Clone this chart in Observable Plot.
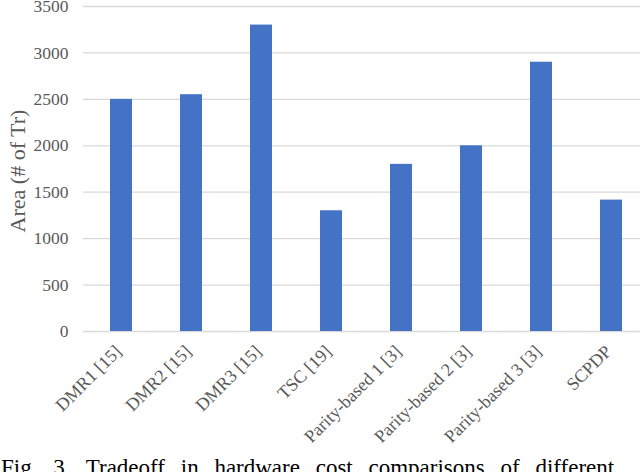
<!DOCTYPE html>
<html>
<head>
<meta charset="utf-8">
<script src="https://cdn.jsdelivr.net/npm/d3@7"></script>
<script src="https://cdn.jsdelivr.net/npm/@observablehq/plot@0.6"></script>
<style>
  html, body { margin: 0; padding: 0; background: #fff; overflow: hidden; }
  #chart svg { display: block; }
  #caption { font-family: "Liberation Serif", "Times New Roman", serif; font-size: 23px; line-height: 23px; color: #000; padding-left: 1px; margin-top: 6px; white-space: nowrap; word-spacing: 10px; }
</style>
</head>
<body>
<div id="chart"></div>
<div id="caption">Fig. 3. Tradeoff in hardware cost comparisons of different</div>
<script>
const categories = ["DMR1 [15]", "DMR2 [15]", "DMR3 [15]", "TSC [19]", "Parity-based 1 [3]", "Parity-based 2 [3]", "Parity-based 3 [3]", "SCPDP"];
const areas = [2500, 2550, 3300, 1300, 1800, 2000, 2900, 1415];
const yTicks = [0, 500, 1000, 1500, 2000, 2500, 3000, 3500];
const yLabel = "Area (# of Tr)";

const data = categories.map((c, i) => ({category: c, area: areas[i]}));

const plot = Plot.plot({
  width: 640,
  height: 450,
  marginLeft: 83,
  marginRight: 0,
  marginTop: 6,
  marginBottom: 119,
  style: {fontFamily: "'Liberation Serif', 'Times New Roman', serif", background: "#fff"},
  x: {domain: categories, range: [83, 648], paddingInner: 0.69, paddingOuter: 0.345, axis: null},
  y: {domain: [0, 3500], ticks: yTicks, axis: null},
  marks: [
    Plot.ruleY(yTicks, {stroke: "#d9d9d9", strokeWidth: 1.3}),
    Plot.barY(data, {x: "category", y: "area", fill: "#4472C4"}),
    Plot.text(yTicks, {y: d => d, frameAnchor: "left", dx: -15, textAnchor: "end", text: d => String(d), fontSize: 17.5, fill: "#595959"}),
    Plot.text(categories, {x: d => d, y: 0, text: d => d, rotate: -45, textAnchor: "end", lineAnchor: "middle", dx: -3, dy: 17, fontSize: 18, fill: "#595959"}),
    Plot.text([yLabel], {frameAnchor: "left", dx: -66, dy: 2, rotate: -90, textAnchor: "middle", lineAnchor: "middle", text: d => d, fontSize: 22, fill: "#595959"})
  ]
});
document.getElementById("chart").appendChild(plot);
</script>
</body>
</html>
